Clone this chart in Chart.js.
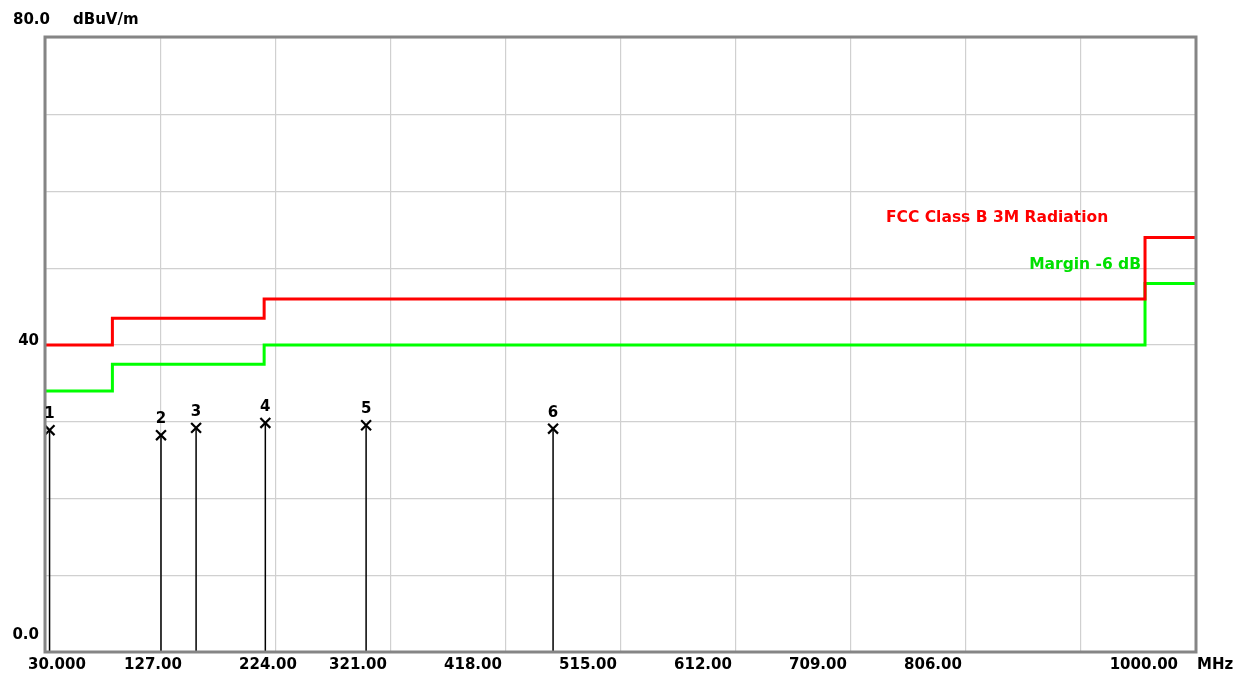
<!DOCTYPE html>
<html>
<head>
<meta charset="utf-8">
<script src="https://cdn.jsdelivr.net/npm/chart.js@4/dist/chart.umd.min.js"></script>
<style>
html,body{margin:0;padding:0;background:#fff;}
canvas{display:block;}
</style>
</head>
<body>
<canvas id="c" width="1242" height="677"></canvas>
<script>
// ---- data ----
const freqTicks = [30, 127, 224, 321, 418, 515, 612, 709, 806, 903, 1000];
const xTickLabels = ['30.000', '127.00', '224.00', '321.00', '418.00', '515.00', '612.00', '709.00', '806.00', '', '1000.00'];
const levelTicks = [0, 10, 20, 30, 40, 50, 60, 70, 80];
const yLabelValues = [0, 40, 80];
const yLabelTexts = ['0.0', '40', '80.0'];
const yUnit = 'dBuV/m';
const xUnit = 'MHz';

const limitFreq = [30, 86, 214, 957, 1000];
const limitLevel = [40, 43.5, 46, 54, 54];
const marginLevel = [34, 37.5, 40, 48, 48];
const limitName = 'FCC Class B 3M Radiation';
const marginName = 'Margin -6 dB';

const markerNo = ['1', '2', '3', '4', '5', '6'];
const markerFreq = [33, 127, 156.6, 215, 300, 457.7];
const markerLevel = [28.9, 28.25, 29.2, 29.85, 29.55, 29.1];

// ---- build datasets ----
const limitData = limitFreq.map((f, i) => ({x: f, y: limitLevel[i]}));
const marginData = limitFreq.map((f, i) => ({x: f, y: marginLevel[i]}));
const stemData = [];
markerFreq.forEach((f, i) => {
  stemData.push({x: f, y: 0}, {x: f, y: markerLevel[i]}, {x: f, y: null});
});
const crossData = markerFreq.map((f, i) => ({x: f, y: markerLevel[i]}));

const FONT = '"DejaVu Sans", sans-serif';

const deco = {
  id: 'deco',
  afterDraw(chart) {
    const {ctx, chartArea: a, scales: {x, y}} = chart;
    ctx.save();
    // frame
    ctx.strokeStyle = '#858585';
    ctx.lineWidth = 3;
    ctx.strokeRect(a.left - 1, a.top - 1, a.right - a.left + 1, a.bottom - a.top + 1);

    ctx.font = 'bold 15px ' + FONT;
    ctx.fillStyle = '#000';
    ctx.textBaseline = 'middle';

    // y labels
    yLabelValues.forEach((v, i) => {
      const py = y.getPixelForValue(v);
      if (v === 80) {
        ctx.textAlign = 'left';
        ctx.fillText(yLabelTexts[i], 13, py - 18);
      } else if (v === 0) {
        ctx.textAlign = 'right';
        ctx.fillText(yLabelTexts[i], 39, py - 17);
      } else {
        ctx.textAlign = 'right';
        ctx.fillText(yLabelTexts[i], 39, py - 4);
      }
    });
    ctx.textAlign = 'left';
    ctx.fillText(yUnit, 73, a.top - 18);

    // x labels
    const ly = a.bottom + 13;
    freqTicks.forEach((v, i) => {
      const t = xTickLabels[i];
      if (!t) return;
      const px = x.getPixelForValue(v);
      if (i === 0) {
        ctx.textAlign = 'left';
        ctx.fillText(t, px - 18, ly);
      } else if (i === freqTicks.length - 1) {
        ctx.textAlign = 'right';
        ctx.fillText(t, px - 18, ly);
      } else if (i <= 2) {
        ctx.textAlign = 'center';
        ctx.fillText(t, px - 8, ly);
      } else {
        ctx.textAlign = 'center';
        ctx.fillText(t, px - 33, ly);
      }
    });
    ctx.textAlign = 'left';
    ctx.fillText(xUnit, a.right + 1, ly);

    // series names
    const stepX = x.getPixelForValue(limitFreq[3]);
    ctx.font = 'bold 15.5px ' + FONT;
    ctx.fillStyle = '#ff0000';
    ctx.textAlign = 'left';
    ctx.fillText(limitName, 886, y.getPixelForValue(limitLevel[3]) - 20);
    ctx.fillStyle = '#00e000';
    ctx.textAlign = 'right';
    ctx.fillText(marginName, stepX - 4, y.getPixelForValue(limitLevel[2]) - 34);

    // marker numbers
    ctx.fillStyle = '#000';
    ctx.textAlign = 'center';
    ctx.font = 'bold 15px ' + FONT;
    markerFreq.forEach((f, i) => {
      ctx.fillText(markerNo[i], x.getPixelForValue(f), y.getPixelForValue(markerLevel[i]) - 16);
    });
    ctx.restore();
  }
};

new Chart(document.getElementById('c'), {
  type: 'scatter',
  data: {
    datasets: [
      {data: limitData, showLine: true, stepped: true, borderColor: '#ff0000', borderWidth: 3, pointRadius: 0, fill: false},
      {data: marginData, showLine: true, stepped: true, borderColor: '#00ff00', borderWidth: 3, pointRadius: 0, fill: false},
      {data: stemData, showLine: true, spanGaps: false, borderColor: '#000000', borderWidth: 1.5, pointRadius: 0, fill: false, clip: false},
      {data: crossData, showLine: false, pointStyle: 'crossRot', pointRadius: 7, borderColor: '#000000', borderWidth: 2.2}
    ]
  },
  options: {
    responsive: false,
    devicePixelRatio: 1,
    animation: false,
    events: [],
    layout: {padding: {left: 0, right: 46, top: 38, bottom: 0}},
    plugins: {legend: {display: false}, tooltip: {enabled: false}},
    scales: {
      x: {
        type: 'linear', min: 30, max: 1000,
        afterBuildTicks: s => { s.ticks = freqTicks.map(v => ({value: v})); },
        afterFit: s => { s.height = 25; },
        ticks: {display: false},
        grid: {color: '#d0d0d0', lineWidth: 1.2, drawTicks: false},
        border: {display: false}
      },
      y: {
        type: 'linear', min: 0, max: 80,
        afterBuildTicks: s => { s.ticks = levelTicks.map(v => ({value: v})); },
        afterFit: s => { s.width = 46; },
        ticks: {display: false},
        grid: {color: '#d0d0d0', lineWidth: 1.2, drawTicks: false},
        border: {display: false}
      }
    }
  },
  plugins: [deco]
});
</script>
</body>
</html>
